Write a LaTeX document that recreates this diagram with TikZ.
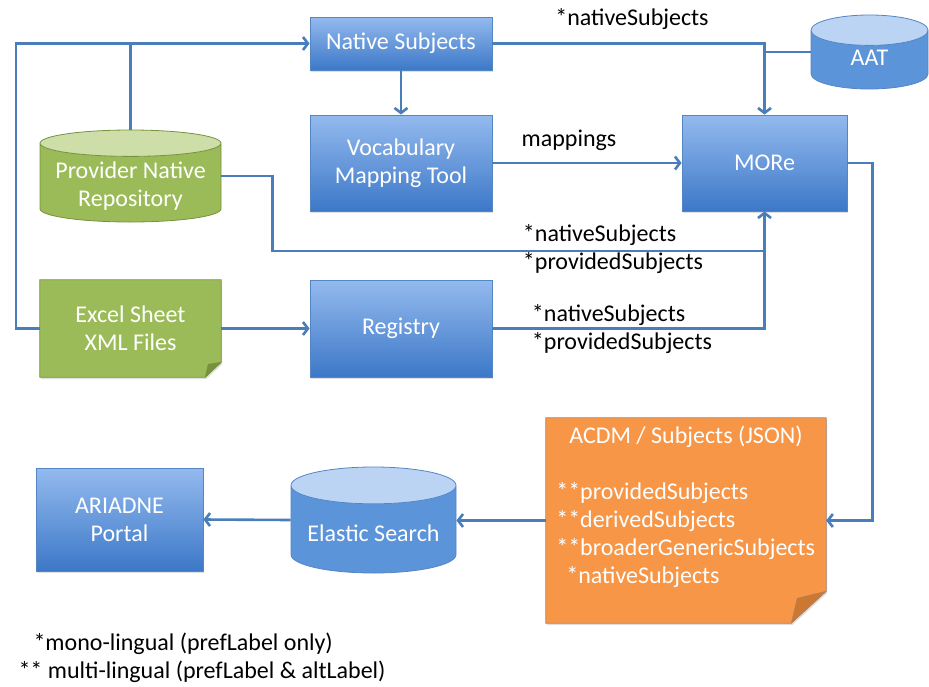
\documentclass[tikz,border=0pt]{standalone}
\usepackage{fontspec}
\setmainfont{Carlito}
\usetikzlibrary{shapes.geometric,arrows.meta,backgrounds,shadows}

\definecolor{lineblue}{RGB}{74,126,187}
\definecolor{boxtop}{RGB}{148,186,238}
\definecolor{boxbot}{RGB}{60,120,200}
\definecolor{boxline}{RGB}{84,134,196}
\definecolor{canbody}{RGB}{92,148,218}
\definecolor{canend}{RGB}{188,212,244}
\definecolor{grn}{RGB}{155,187,89}
\definecolor{grnline}{RGB}{118,146,62}
\definecolor{grnend}{RGB}{205,222,168}
\definecolor{grnfold}{RGB}{118,146,62}
\definecolor{org}{RGB}{247,150,70}
\definecolor{orgline}{RGB}{170,130,110}
\definecolor{orgfold}{RGB}{205,120,50}

\begin{document}
\begin{tikzpicture}[x=1pt, y=-1pt,
	every node/.style={font=\fontsize{24}{28}\selectfont},
	box/.style={rectangle, draw=boxline, thick, top color=boxtop, bottom color=boxbot, text=white, align=center, drop shadow={opacity=0.25, shadow xshift=1pt, shadow yshift=-2pt}},
	can/.style={cylinder, shape border rotate=90, anchor=shape center, inner sep=4pt, draw=boxline, thick, cylinder uses custom fill, cylinder body fill=canbody, cylinder end fill=canend},
	gcan/.style={can, draw=grnline, cylinder body fill=grn, cylinder end fill=grnend},
	cantext/.style={text=white, align=center, yshift=#1},
	note/.style={rectangle, text=white, align=center},
	line/.style={draw=lineblue, line width=2.6pt},
	arr/.style={line, -{Straight Barb[length=5pt, width=13pt]}},
	lbl/.style={align=left}]
	\useasboundingbox (0,0) rectangle (929,686);
	
	% boxes
	\node[box, minimum width=182pt, minimum height=53pt] (ns) at (401,43.5) {Native Subjects};
	\node[box, minimum width=182pt, minimum height=96pt] (vmt) at (401,163) {Vocabulary\\Mapping Tool};
	\node[box, minimum width=182pt, minimum height=97pt] (reg) at (401,328.5) {Registry};
	\node[box, minimum width=165pt, minimum height=96pt] (more) at (764.5,163) {MORe};
	\node[box, minimum width=167pt, minimum height=103pt] (portal) at (119.5,519.5) {ARIADNE\\Portal};
	
	% databases
	\node[gcan, aspect=3.3, minimum width=181pt, minimum height=92pt,
		label={[cantext=-1pt]center:Provider Native\\Repository}] (pnr) at (130.5,176) {};
	\node[can, aspect=3.8, minimum width=117pt, minimum height=74pt,
		label={[cantext=4.5pt]center:AAT}] (aat) at (869.5,52) {};
	\node[can, aspect=4.6, minimum width=165pt, minimum height=106pt,
		label={[cantext=-1pt]center:Elastic Search}] (es) at (373.5,520) {};
	
	% notes
	\node[note, minimum width=181pt, minimum height=97pt] (xls) at (130.5,328.5) {Excel Sheet\\XML Files};
	\node[note, minimum width=280pt, minimum height=205pt] (acdm) at (686,520.5) {};
	\node[note] (acdmtitle) at ([yshift=-19pt]acdm.north) {ACDM / Subjects (JSON)};
	\node[note, anchor=west, align=left] (acdmlist) at ([xshift=7pt, yshift=-15pt]acdm.west)
		{**providedSubjects\\**derivedSubjects\\**broaderGenericSubjects\\\hspace*{10pt}*nativeSubjects};
	\begin{scope}[on background layer]
		\filldraw[fill=grn, draw=grnline, thick, drop shadow={opacity=0.25, shadow xshift=1pt, shadow yshift=-2pt}]
			(xls.north west) -- (xls.north east) -- ([yshift=15pt]xls.south east)
			-- ([xshift=-16pt]xls.south east) -- (xls.south west) -- cycle;
		\filldraw[fill=grnfold, draw=grnline]
			([yshift=15pt]xls.south east) -- ([xshift=-13pt, yshift=13pt]xls.south east)
			-- ([xshift=-16pt]xls.south east) -- cycle;
		\filldraw[fill=org, draw=orgline, thick, drop shadow={opacity=0.25, shadow xshift=1pt, shadow yshift=-2pt}]
			(acdm.north west) -- (acdm.north east) -- ([yshift=32pt]acdm.south east)
			-- ([xshift=-35pt]acdm.south east) -- (acdm.south west) -- cycle;
		\filldraw[fill=orgfold, draw=orgline]
			([yshift=32pt]acdm.south east) -- ([xshift=-29pt, yshift=25pt]acdm.south east)
			-- ([xshift=-35pt]acdm.south east) -- cycle;
	\end{scope}
	
	% connectors
	\coordinate (mj) at (764.5,251);
	\draw[arr] (xls.west) -- ++(-24,0) |- (ns.west);
	\draw[line] (pnr.north) -- (pnr.north |- ns.west);
	\draw[arr] (ns.south) -- (vmt.north);
	\draw[arr] (ns.east) -| (more.north);
	\draw[line] (aat.shape center -| aat.west) -- (aat.shape center -| more.north);
	\draw[arr] (vmt.east) -- (more.west);
	\draw[arr] (pnr.shape center -| pnr.east) -- ++(51,0) |- (mj) -- (more.south);
	\draw[line] (reg.east) -| (mj);
	\draw[arr] (xls.east) -- (reg.west);
	\draw[arr] (more.east) -- ++(25,0) |- (acdm.east);
	\draw[arr] (acdm.west) -- (acdm.west -| es.east);
	\draw[arr] (es.shape center -| es.west) -- (portal.east);
	
	% labels
	\node[lbl] (l1) at (632,19) {*nativeSubjects};
	\node[lbl] (l2) at (569,140) {mappings};
	\node[lbl] (l3) at (613,249) {*nativeSubjects\\*providedSubjects};
	\node[lbl] (l4) at (622,329) {*nativeSubjects\\*providedSubjects};
	\node[lbl, anchor=west] (fn) at (15,658) {\hspace*{15pt}*mono-lingual (prefLabel only)\\** multi-lingual (prefLabel \& altLabel)};
\end{tikzpicture}
\end{document}
